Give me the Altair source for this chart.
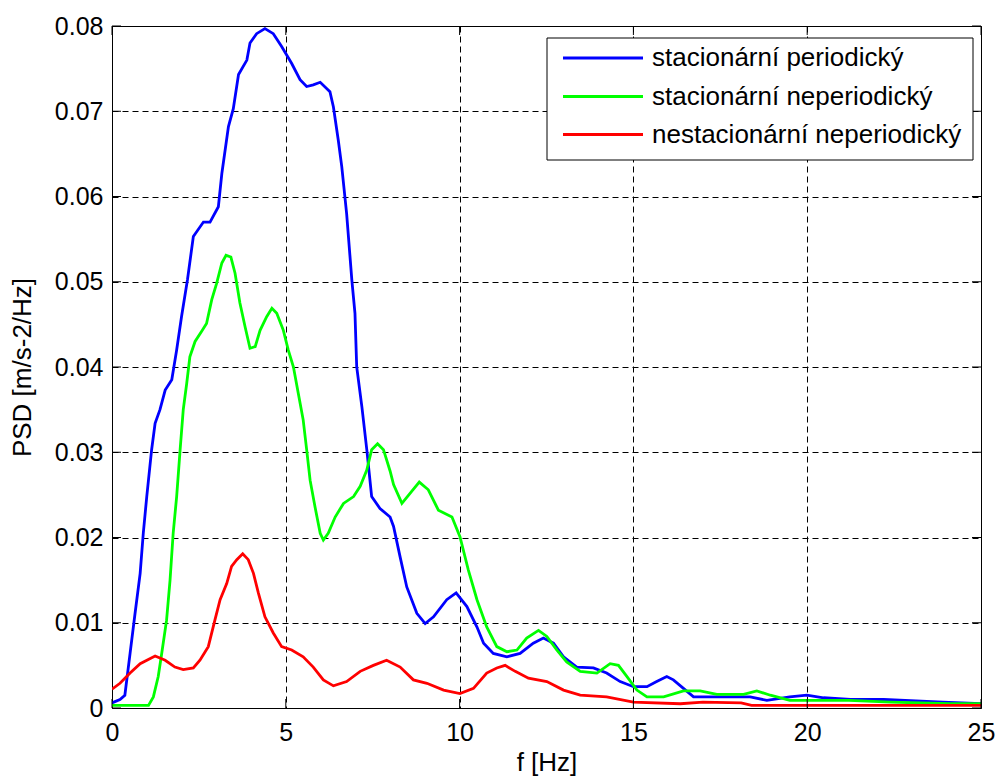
import altair as alt
import pandas as pd

FONT = "Liberation Sans"
W, H = 869, 682

names = ["stacionární periodický", "stacionární neperiodický", "nestacionární neperiodický"]
colors = ["#0000ff", "#00ff00", "#ff0000"]

x_ticks = [0, 5, 10, 15, 20, 25]
y_ticks = [0, 0.01, 0.02, 0.03, 0.04, 0.05, 0.06, 0.07, 0.08]

blue_f = [0.0, 0.23, 0.37, 0.52, 0.66, 0.81, 0.9, 1.0, 1.14, 1.24,
          1.38, 1.53, 1.72, 1.86, 2.0, 2.17, 2.34, 2.63, 2.82, 3.06,
          3.16, 3.35, 3.49, 3.64, 3.88, 3.97, 4.16, 4.4, 4.64, 4.88,
          5.17, 5.41, 5.6, 5.79, 5.99, 6.27, 6.37, 6.51, 6.61, 6.75,
          6.9, 6.99, 7.04, 7.19, 7.33, 7.47, 7.71, 8.0, 8.1, 8.29,
          8.48, 8.77, 9.01, 9.25, 9.63, 9.9, 10.21, 10.5, 10.69, 10.97,
          11.36, 11.74, 12.12, 12.41, 12.7, 12.99, 13.37, 13.85, 14.23, 14.62,
          15.0, 15.39, 15.67, 15.96, 16.15, 16.44, 16.73, 17.2, 18.07, 18.36,
          18.84, 19.5, 19.99, 20.47, 21.24, 22.2, 23.9, 25.0]
blue_v = [0.0006, 0.001, 0.0015, 0.0064, 0.011, 0.0158, 0.0205, 0.0248, 0.0303, 0.0334,
          0.035, 0.0373, 0.0385, 0.042, 0.0459, 0.0502, 0.0553, 0.057, 0.057, 0.0588,
          0.0627, 0.0682, 0.0703, 0.0743, 0.076, 0.078, 0.0791, 0.0797, 0.0791, 0.0776,
          0.0756, 0.0737, 0.0729, 0.0731, 0.0734, 0.0723, 0.0705, 0.0666, 0.0635, 0.058,
          0.0502, 0.0463, 0.040, 0.0353, 0.0303, 0.0248, 0.0234, 0.0224, 0.0213, 0.0177,
          0.0142, 0.0111, 0.0099, 0.0107, 0.0127, 0.0135, 0.0119, 0.0095, 0.0076, 0.0064,
          0.006, 0.0064, 0.0076, 0.0082, 0.0076, 0.006, 0.0048, 0.0047, 0.0041, 0.0031,
          0.0025, 0.0025, 0.0031, 0.0037, 0.0033, 0.0023, 0.0013, 0.0013, 0.0013, 0.0013,
          0.0009, 0.0013, 0.0015, 0.0012, 0.001, 0.001, 0.0007, 0.0005]

green_f = [0.0, 1.05, 1.19, 1.33, 1.43, 1.57, 1.67, 1.76, 1.86, 1.96,
           2.05, 2.15, 2.24, 2.39, 2.58, 2.72, 2.87, 3.01, 3.16, 3.28,
           3.42, 3.54, 3.68, 3.83, 3.97, 4.12, 4.26, 4.45, 4.6, 4.74,
           4.93, 5.07, 5.22, 5.36, 5.5, 5.6, 5.7, 5.84, 5.99, 6.08,
           6.22, 6.42, 6.66, 6.95, 7.14, 7.33, 7.47, 7.64, 7.81, 8.0,
           8.1, 8.34, 8.58, 8.84, 9.1, 9.39, 9.78, 10.01, 10.25, 10.5,
           10.78, 11.07, 11.36, 11.65, 11.93, 12.27, 12.51, 12.8, 13.08, 13.47,
           13.95, 14.33, 14.57, 14.81, 15.1, 15.39, 15.87, 16.44, 16.92, 17.4,
           18.17, 18.55, 18.94, 19.5, 21.2, 22.4, 24.1, 25.0]
green_v = [0.0003, 0.0003, 0.0013, 0.0037, 0.0064, 0.0103, 0.015, 0.0205, 0.0248, 0.0303,
           0.035, 0.0381, 0.0412, 0.043, 0.0442, 0.0451, 0.0479, 0.0498, 0.0522, 0.0531,
           0.0529, 0.051, 0.0475, 0.0447, 0.0422, 0.0424, 0.0443, 0.0459, 0.0469, 0.0463,
           0.0443, 0.042, 0.040, 0.0369, 0.0338, 0.0303, 0.0267, 0.0236, 0.0205, 0.0197,
           0.0205, 0.0224, 0.024, 0.0248, 0.026, 0.0279, 0.0303, 0.031, 0.0303, 0.0278,
           0.0262, 0.024, 0.0252, 0.0265, 0.0256, 0.0232, 0.0224, 0.0201, 0.0162, 0.0127,
           0.0095, 0.0072, 0.0066, 0.0068, 0.0082, 0.0091, 0.0084, 0.0068, 0.0054, 0.0043,
           0.0041, 0.0052, 0.005, 0.0037, 0.0021, 0.0013, 0.0013, 0.002, 0.002, 0.0016,
           0.0016, 0.002, 0.0015, 0.0009, 0.0009, 0.0007, 0.0005, 0.0005]

red_f = [0.0, 0.23, 0.52, 0.81, 1.24, 1.53, 1.81, 2.05, 2.34, 2.53,
         2.77, 2.96, 3.11, 3.3, 3.44, 3.59, 3.76, 3.92, 4.07, 4.21,
         4.4, 4.64, 4.88, 5.17, 5.5, 5.79, 6.08, 6.37, 6.75, 7.14,
         7.52, 7.9, 8.29, 8.67, 9.06, 9.54, 10.01, 10.4, 10.78, 11.07,
         11.31, 11.6, 11.98, 12.51, 12.99, 13.47, 14.23, 15.0, 16.35, 17.0,
         18.1, 18.4, 25.0]
red_v = [0.0022, 0.0029, 0.0041, 0.0052, 0.0061, 0.0056, 0.0048, 0.0045, 0.0047, 0.0056,
         0.0072, 0.0103, 0.0127, 0.0146, 0.0166, 0.0174, 0.0181, 0.0174, 0.0158, 0.0135,
         0.0107, 0.0088, 0.0072, 0.0068, 0.006, 0.0048, 0.0033, 0.0026, 0.0031, 0.0043,
         0.005, 0.0056, 0.0048, 0.0033, 0.0029, 0.0021, 0.0017, 0.0023, 0.0041, 0.0047,
         0.005, 0.0043, 0.0035, 0.0031, 0.0021, 0.0015, 0.0013, 0.0007, 0.0005, 0.0007,
         0.0006, 0.0003, 0.0003]

series = [(names[0], colors[0], blue_f, blue_v),
          (names[1], colors[1], green_f, green_v),
          (names[2], colors[2], red_f, red_v)]

xscale = alt.Scale(domain=[0, 25], nice=False, zero=False)
yscale = alt.Scale(domain=[0, 0.08], nice=False, zero=False)

xaxis = alt.Axis(values=x_ticks, format="d", grid=True, gridDash=[6, 4], gridColor="black",
                 gridOpacity=1, gridWidth=1, ticks=False, domain=False,
                 labelFont=FONT, labelFontSize=25, labelColor="black", labelPadding=12,
                 labelFlush=False, labelOverlap=False,
                 titleFont=FONT, titleFontSize=26, titleFontWeight="normal", titleColor="black",
                 titlePadding=4)
yaxis = alt.Axis(values=y_ticks, grid=True, gridDash=[6, 4], gridColor="black",
                 gridOpacity=1, gridWidth=1, ticks=False, domain=False,
                 labelExpr="datum.value == 0 ? '0' : format(datum.value, '.2f')",
                 labelFont=FONT, labelFontSize=25, labelColor="black", labelPadding=9,
                 labelFlush=False, labelOverlap=False,
                 titleFont=FONT, titleFontSize=26, titleFontWeight="normal", titleColor="black",
                 titlePadding=19)

def X(field):
    return alt.X(field, type="quantitative", scale=xscale, axis=xaxis, title="f [Hz]")

def Y(field):
    return alt.Y(field, type="quantitative", scale=yscale, axis=yaxis, title="PSD [m/s-2/Hz]")

layers = []
for name, col, fs, vs in series:
    assert len(fs) == len(vs), name
    d = pd.DataFrame({"f": fs, "psd": vs})
    layers.append(alt.Chart(d).mark_line(color=col, strokeWidth=2.8, clip=True)
                  .encode(x=X("f"), y=Y("psd")))

xt = pd.DataFrame({"f": x_ticks})
yt = pd.DataFrame({"psd": y_ticks})
tick_len = 9
layers.append(alt.Chart(xt).mark_rule(color="black", strokeWidth=1)
              .encode(x=X("f"), y=alt.value(H), y2=alt.value(H - tick_len)))
layers.append(alt.Chart(xt).mark_rule(color="black", strokeWidth=1)
              .encode(x=X("f"), y=alt.value(0), y2=alt.value(tick_len)))
layers.append(alt.Chart(yt).mark_rule(color="black", strokeWidth=1)
              .encode(y=Y("psd"), x=alt.value(0), x2=alt.value(tick_len)))
layers.append(alt.Chart(yt).mark_rule(color="black", strokeWidth=1)
              .encode(y=Y("psd"), x=alt.value(W), x2=alt.value(W - tick_len)))

# legend box
box = pd.DataFrame({"k": [0]})
layers.append(alt.Chart(box).mark_rect(fill="white", stroke="black", strokeWidth=1)
              .encode(x=alt.value(435), x2=alt.value(861), y=alt.value(12), y2=alt.value(134)))
row_y = [32, 70.5, 108.5]
for (name, col, _, _), yy in zip(series, row_y):
    ld = pd.DataFrame({"label": [name]})
    layers.append(alt.Chart(ld).mark_rule(color=col, strokeWidth=2.8)
                  .encode(x=alt.value(451), x2=alt.value(531), y=alt.value(yy)))
    layers.append(alt.Chart(ld).mark_text(align="left", baseline="middle", font=FONT,
                                          fontSize=26, color="black")
                  .encode(x=alt.value(540), y=alt.value(yy), text="label:N"))

chart = alt.layer(*layers).properties(
    width=W, height=H,
    padding={"left": 112, "top": 26, "right": 14, "bottom": 70},
    autosize=alt.AutoSizeParams(type="none"),
    background="white",
).configure_view(stroke="black", strokeWidth=1)

chart.save("out.html", embed_options={"renderer": "svg", "actions": False})
